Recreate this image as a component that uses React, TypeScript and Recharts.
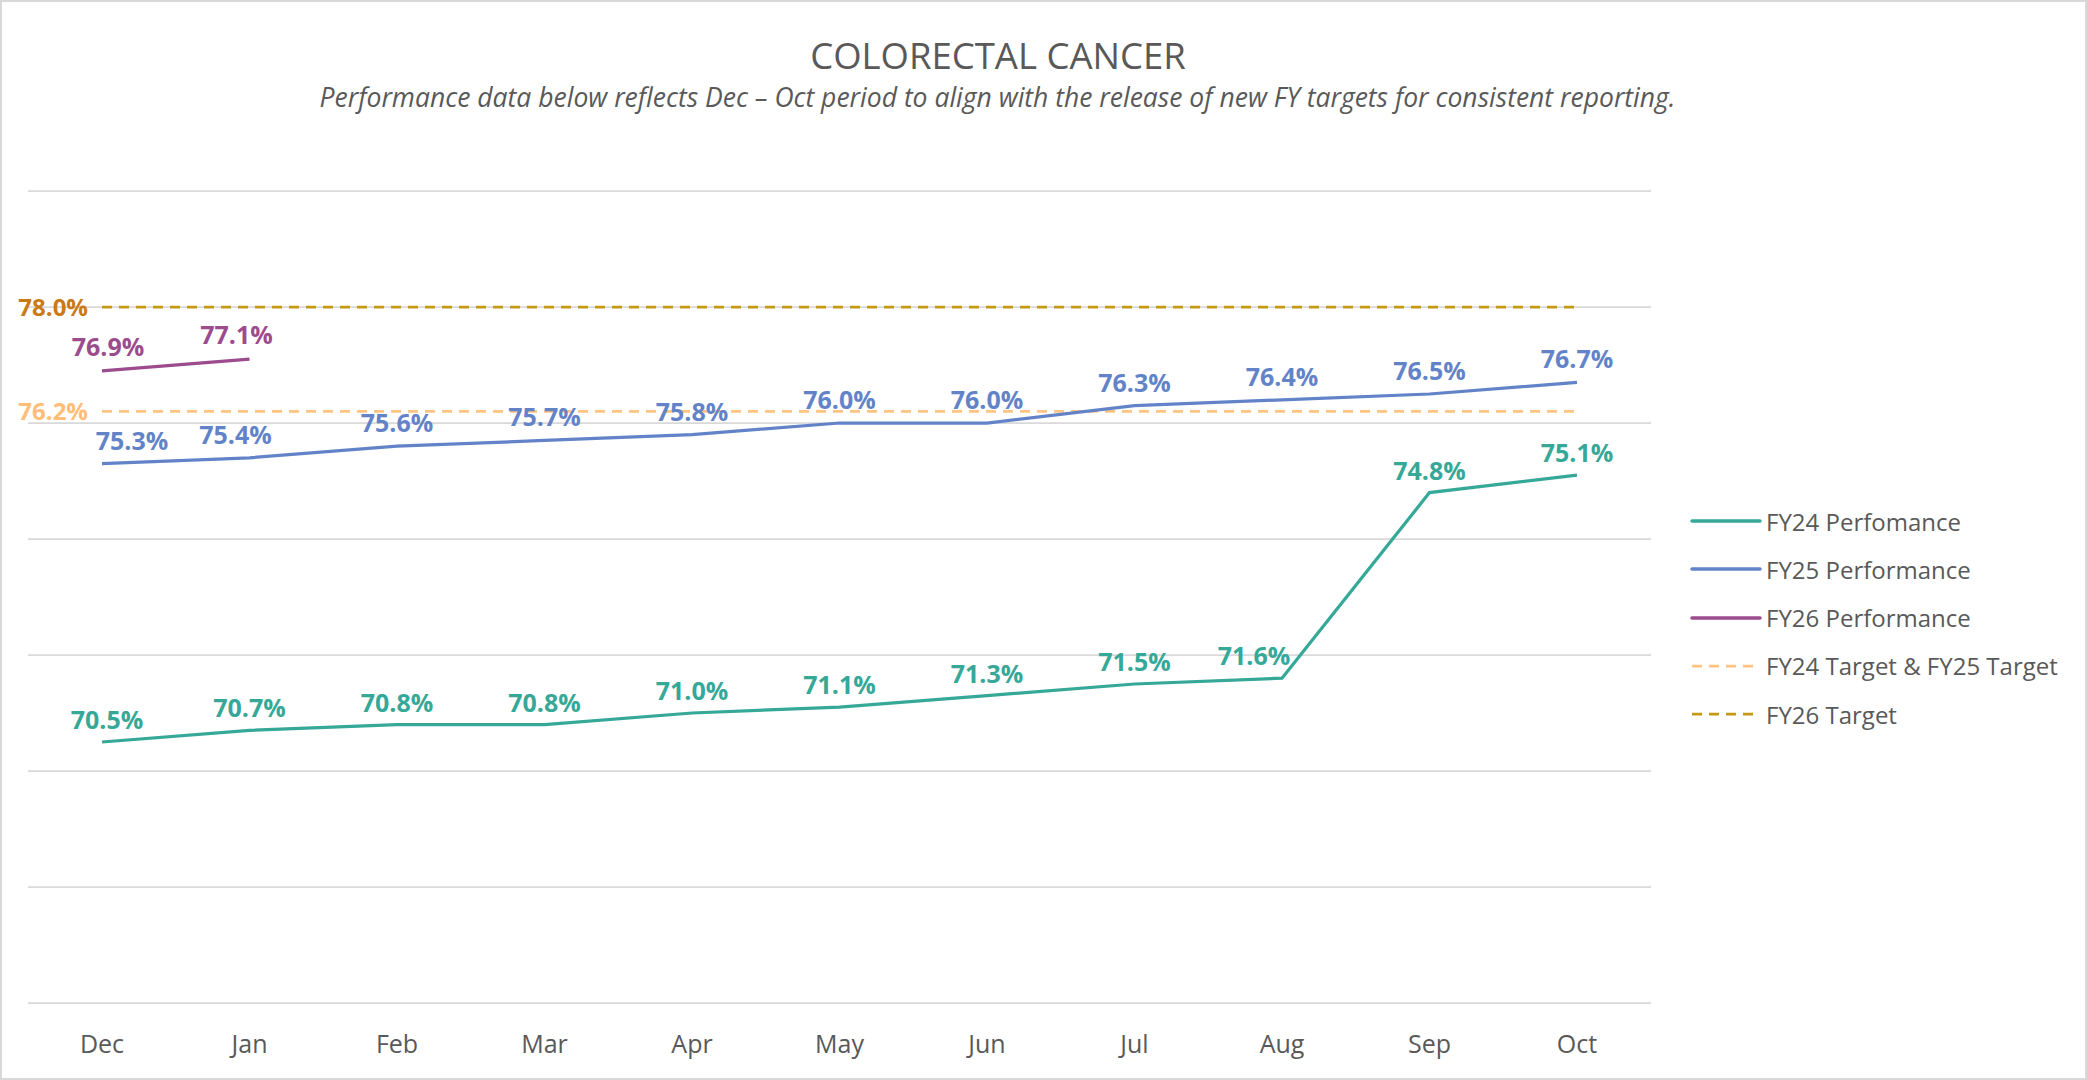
import React from 'react';
import { LineChart, Line, XAxis, YAxis, CartesianGrid, Legend, LabelList } from 'recharts';

const months = ['Dec', 'Jan', 'Feb', 'Mar', 'Apr', 'May', 'Jun', 'Jul', 'Aug', 'Sep', 'Oct'];
const fy24Performance = [70.5, 70.7, 70.8, 70.8, 71.0, 71.1, 71.3, 71.5, 71.6, 74.8, 75.1];
const fy25Performance = [75.3, 75.4, 75.6, 75.7, 75.8, 76.0, 76.0, 76.3, 76.4, 76.5, 76.7];
const fy26Performance = [76.9, 77.1, null, null, null, null, null, null, null, null, null];
const fy2425Target = [76.2, 76.2, 76.2, 76.2, 76.2, 76.2, 76.2, 76.2, 76.2, 76.2, 76.2];
const fy26Target = [78.0, 78.0, 78.0, 78.0, 78.0, 78.0, 78.0, 78.0, 78.0, 78.0, 78.0];
const yTicks = [66, 68, 70, 72, 74, 76, 78, 80];

const FONT = '"Open Sans", "Noto Sans", sans-serif';
const GREY = '#595959';

const series = [
  { key: 'fy24', name: 'FY24 Perfomance', color: '#35a898', dashed: false },
  { key: 'fy25', name: 'FY25 Performance', color: '#6383c9', dashed: false },
  { key: 'fy26', name: 'FY26 Performance', color: '#9c4b8d', dashed: false },
  { key: 't2425', name: 'FY24 Target & FY25 Target', color: '#ffc382', dashed: true },
  { key: 't26', name: 'FY26 Target', color: '#c49a14', dashed: true },
];

const data = months.map((month, i) => ({
  month,
  fy24: fy24Performance[i],
  fy25: fy25Performance[i],
  fy26: fy26Performance[i],
  t2425: fy2425Target[i],
  t26: fy26Target[i],
}));

const fmt = (v: any) => (v == null ? '' : `${Number(v).toFixed(1)}%`);

// a few labels were dragged sideways in the original chart (index -> dx)
const labelNudge: Record<string, Record<number, number>> = {
  fy24: { 0: 5, 8: -28 },
  fy25: { 0: 30, 1: -14 },
  fy26: { 0: 6, 1: -13 },
};

const perfLabel = (key: string, color: string, offset: number) => (props: any) => {
  const x = props.viewBox?.x ?? props.x;
  const y = props.viewBox?.y ?? props.y;
  if (props.value == null || x == null || y == null) return null;
  const dx = labelNudge[key]?.[props.index] ?? 0;
  return (
    <text x={x + dx} y={y - offset} textAnchor="middle" fill={color}
      fontSize={25} fontWeight={700} fontFamily={FONT}>
      {fmt(props.value)}
    </text>
  );
};

// only the first point of a target line gets a label, sitting left of it
const targetLabel = (color: string) => (props: any) => {
  const x = props.viewBox?.x ?? props.x;
  const y = props.viewBox?.y ?? props.y;
  const first = props.index !== undefined ? props.index === 0 : x < 150;
  if (!first || props.value == null) return null;
  return (
    <text x={x - 14} y={y} dy="0.36em" textAnchor="end" fill={color}
      fontSize={24} fontWeight={700} fontFamily={FONT}>
      {fmt(props.value)}
    </text>
  );
};

const ChartLegend = () => (
  <div style={{ fontFamily: FONT }}>
    {series.map(s => (
      <div key={s.key} style={{ display: 'flex', alignItems: 'center', height: 48.25 }}>
        <svg width={72} height={10} style={{ marginRight: 4 }}>
          <line x1={2} y1={5} x2={s.dashed ? 64 : 70} y2={5} stroke={s.color}
            strokeWidth={s.dashed ? 2.75 : 3.5} strokeLinecap={s.dashed ? 'butt' : 'round'}
            strokeDasharray={s.dashed ? '10 7' : undefined} />
        </svg>
        <span style={{ fontSize: 24, color: GREY, whiteSpace: 'nowrap' }}>{s.name}</span>
      </div>
    ))}
  </div>
);

export default function App() {
  return (
    <div style={{ position: 'absolute', left: 0, top: 0, width: 2087, height: 1080,
      background: '#fff', boxShadow: 'inset 0 0 0 2px #d9d9d9', fontFamily: FONT }}>
      <div style={{ position: 'absolute', left: 0, top: 37, width: 1996, textAlign: 'center',
        fontSize: 36.5, lineHeight: '36.5px', color: GREY }}>
        COLORECTAL CANCER
      </div>
      <div style={{ position: 'absolute', left: 0, top: 84, width: 1995, textAlign: 'center',
        fontSize: 26.5, lineHeight: '26.5px', color: GREY, fontStyle: 'italic' }}>
        Performance data below reflects Dec – Oct period to align with the release of new FY targets for consistent reporting.
      </div>
      <div style={{ position: 'absolute', left: 0, top: 0 }}>
        <LineChart width={2087} height={1080} data={data}
          margin={{ top: 191, right: 436, left: 28, bottom: 37 }}>
          <CartesianGrid vertical={false} stroke="#d9d9d9" strokeWidth={1.75} />
          <XAxis dataKey="month" interval={0} axisLine={false} tickLine={false}
            tickSize={0} tickMargin={32} height={40} padding={{ left: 74, right: 74 }}
            tick={{ fill: GREY, fontSize: 25, fontFamily: FONT }} />
          <YAxis hide domain={[66, 80]} ticks={yTicks} />
          <Legend layout="vertical" align="center" verticalAlign="middle"
            content={() => <ChartLegend />}
            wrapperStyle={{ position: 'absolute', left: 1690, top: 497, width: 390, height: 245 }} />

          <Line dataKey="t2425" name="FY24 Target & FY25 Target" stroke="#ffc382" strokeWidth={2.75}
            strokeDasharray="10 7" dot={false} activeDot={false} isAnimationActive={false}>
            <LabelList dataKey="t2425" content={targetLabel('#ffbe78')} />
          </Line>
          <Line dataKey="t26" name="FY26 Target" stroke="#c49a14" strokeWidth={2.75}
            strokeDasharray="10 7" dot={false} activeDot={false} isAnimationActive={false}>
            <LabelList dataKey="t26" content={targetLabel('#c97a16')} />
          </Line>

          <Line dataKey="fy24" name="FY24 Perfomance" stroke="#35a898" strokeWidth={3.25}
            dot={false} activeDot={false} isAnimationActive={false}>
            <LabelList dataKey="fy24" content={perfLabel('fy24', '#35a898', 13)} />
          </Line>
          <Line dataKey="fy25" name="FY25 Performance" stroke="#6383c9" strokeWidth={3.25}
            dot={false} activeDot={false} isAnimationActive={false}>
            <LabelList dataKey="fy25" content={perfLabel('fy25', '#6383c9', 14)} />
          </Line>
          <Line dataKey="fy26" name="FY26 Performance" stroke="#9c4b8d" strokeWidth={3.25}
            dot={false} activeDot={false} isAnimationActive={false}>
            <LabelList dataKey="fy26" content={perfLabel('fy26', '#9c4b8d', 15)} />
          </Line>
        </LineChart>
      </div>
    </div>
  );
}
